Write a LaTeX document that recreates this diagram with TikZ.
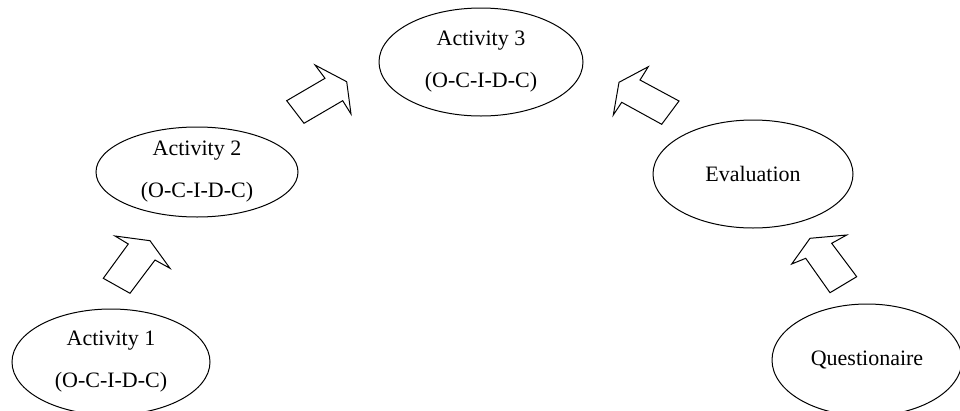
\documentclass[tikz,border=0pt]{standalone}
\usepackage{fontspec}
\setmainfont{Liberation Serif}
\usetikzlibrary{shapes.geometric}
\begin{document}
\begin{tikzpicture}[x=1pt,y=-1pt,
  stage/.style={draw,ellipse,line width=1pt,inner sep=0pt,align=center,
    font=\fontsize{22}{42}\selectfont},
  blockarrow/.style={draw,line width=1pt,line join=miter}]
\useasboundingbox (0,0) rectangle (960,410);
\clip (0,0) rectangle (960,410);

% stages
\node[stage,minimum width=198pt,minimum height=106pt] (a1) at (111,362) {Activity 1\\(O-C-I-D-C)};
\node[stage,minimum width=202pt,minimum height=90pt]  (a2) at (197,172) {Activity 2\\(O-C-I-D-C)};
\node[stage,minimum width=204pt,minimum height=108pt] (a3) at (481,62)  {Activity 3\\(O-C-I-D-C)};
\node[stage,minimum width=200pt,minimum height=108pt] (ev) at (753,174) {Evaluation};
\node[stage,minimum width=190pt,minimum height=112pt] (qu) at (867,360) {Questionaire};

% block arrows between the stages
\draw[blockarrow] (103.3,278.3) -- (128.3,244) -- (115,236) -- (150,240.7)
  -- (170,268.3) -- (155,260) -- (130,293.3) -- cycle;
\draw[blockarrow] (286.7,100.7) -- (325,78.3) -- (315,65) -- (346.7,81.7)
  -- (351,114) -- (342.7,100.7) -- (304,123.3) -- cycle;
\draw[blockarrow] (679,101) -- (640,80) -- (648.3,66.7) -- (619,82.3)
  -- (613.3,115) -- (621.7,102.3) -- (661.7,124.3) -- cycle;
\draw[blockarrow] (856.7,276.7) -- (831.7,243.3) -- (846.7,235) -- (810,238.3)
  -- (791.7,264) -- (805.7,258.3) -- (830,292.7) -- cycle;
\end{tikzpicture}
\end{document}
